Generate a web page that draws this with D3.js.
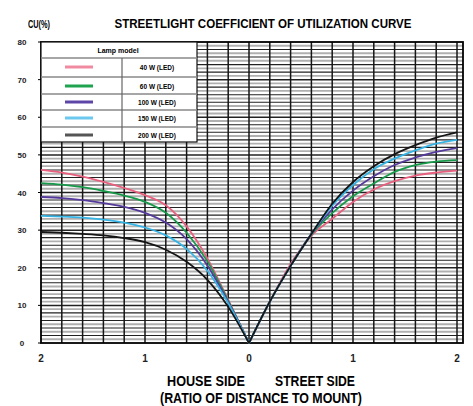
<!DOCTYPE html>
<html><head><meta charset="utf-8">
<script src="https://cdn.jsdelivr.net/npm/d3@7"></script>
<style>body{margin:0;background:#fff}svg{display:block}</style>
</head><body><svg id="c" width="473" height="406"></svg>
<script>
// ---- data ----
const xs = [-2,-1.8,-1.6,-1.4,-1.2,-1.0,-0.8,-0.6,-0.4,-0.2,0,0.2,0.4,0.6,0.8,1.0,1.2,1.4,1.6,1.8,2.0];
const seriesNames = ["40 W (LED)","60 W (LED)","100 W (LED)","150 W (LED)","200 W (LED)"];
const pinkVals   = [46,45.3,44.2,42.8,41.2,39.3,36.6,31,22.5,11.5,0,11,21,28.5,33,37.5,40.8,43,44.5,45.3,45.8];
const greenVals  = [42.5,42.1,41.4,40.4,39.2,37.5,34.6,29.3,21.7,11.2,0,11,20.5,28.8,34.5,39,42.4,45.5,47.3,48.2,48.6];
const purpleVals = [38.8,38.5,38.0,37.2,36.2,34.6,32.0,27.6,20.6,10.9,0,11,20.5,29,35.5,40.5,44.3,47.3,49.3,50.8,51.8];
const cyanVals   = [33.8,33.6,33.3,32.8,32.0,30.7,28.6,25.0,19.2,10.6,0,11,20.5,29,36.5,42,46.2,49,51.2,53,54];
const blackVals  = [29.5,29.3,29.0,28.6,27.9,26.8,24.8,21.6,16.8,9.6,0,11,20.5,29,37,42.8,47,50.2,52.6,54.6,56];
const yTicks = [0,10,20,30,40,50,60,70,80];
const xTicks = [-2,-1,0,1,2];
const allVals = [pinkVals,greenVals,purpleVals,cyanVals,blackVals];
const colors = ["#e8607e","#17994a","#553a9c","#35b4e6","#151515"];
const legendColors = ["#f08aa0","#1fa34f","#5e46a8","#6cc8ee","#555555"];

const svg = d3.select("#c");
const L=41,R=463,T=42,B=343;
const x = d3.scaleLinear().domain([-2,2]).range([41,457]);
const y = d3.scaleLinear().domain([0,80]).range([B,T]);

// grid
const g = svg.append("g");
d3.range(1,80).forEach(v=>{
  g.append("line").attr("x1",L).attr("x2",R).attr("y1",y(v)).attr("y2",y(v))
   .attr("stroke", v%2===0 ? "#222" : "#b0b0b0")
   .attr("stroke-width", v%2===0 ? (v%10===0?1.5:1.1) : 1.9);
});
d3.range(-1.8,2.05,0.2).forEach(v=>{
  g.append("line").attr("y1",T).attr("y2",B).attr("x1",x(v)).attr("x2",x(v))
   .attr("stroke","#151515").attr("stroke-width",1.5);
});
svg.append("rect").attr("x",L).attr("y",T).attr("width",R-L).attr("height",B-T)
  .attr("fill","none").attr("stroke","#000").attr("stroke-width",1.8);

// curves
const line = d3.line().x(d=>x(d[0])).y(d=>y(d[1])).curve(d3.curveMonotoneX);
allVals.forEach((vals,i)=>{
  const pts = xs.map((xv,j)=>[xv,vals[j]]);
  const left = pts.filter(p=>p[0]<=0), right = pts.filter(p=>p[0]>=0);
  [left,right].forEach(seg=>{
    svg.append("path").attr("d",line(seg)).attr("fill","none")
      .attr("stroke",colors[i]).attr("stroke-width",1.8);
  });
});

// legend
const lg = svg.append("g");
const lx0=41, lx1=197, lmid=122;
const rowBot=142;
lg.append("rect").attr("x",lx0).attr("y",42).attr("width",lx1-lx0).attr("height",rowBot-42)
  .attr("fill","#fff").attr("stroke","#111").attr("stroke-width",1.2);
[58,77,94,110,127].forEach(v=>{
  lg.append("line").attr("x1",lx0).attr("x2",lx1).attr("y1",v).attr("y2",v)
    .attr("stroke","#888").attr("stroke-width",1.6);
});
lg.append("line").attr("x1",lmid).attr("x2",lmid).attr("y1",58).attr("y2",rowBot)
  .attr("stroke","#666").attr("stroke-width",1.2);
lg.append("text").attr("x",118).attr("y",53).attr("text-anchor","middle")
  .attr("font-family","Liberation Sans Narrow, Liberation Sans, sans-serif").attr("font-weight","bold")
  .attr("font-size",7).text("Lamp model");
const rowMid=[67,86,102,118,135];
seriesNames.forEach((n,i)=>{
  lg.append("line").attr("x1",65).attr("x2",93).attr("y1",rowMid[i]).attr("y2",rowMid[i])
    .attr("stroke",legendColors[i]).attr("stroke-width",3);
  lg.append("text").attr("x",157).attr("y",rowMid[i]+2.5).attr("text-anchor","middle")
    .attr("font-family","Liberation Sans Narrow, Liberation Sans, sans-serif").attr("font-weight","bold")
    .attr("font-size",6.5).text(n);
});

// axes labels
const ff = "Liberation Sans Narrow, Liberation Sans, Arial, sans-serif";
yTicks.forEach(v=>{
  svg.append("text").attr("x",22).attr("y",y(v)+3).attr("text-anchor","middle")
    .attr("font-family",ff).attr("font-weight","bold").attr("font-size",8).attr("fill","#222").text(v);
  svg.append("line").attr("x1",L-3).attr("x2",L).attr("y1",y(v)).attr("y2",y(v)).attr("stroke","#000");
});
xTicks.forEach(v=>{
  svg.append("text").attr("x",x(v)).attr("y",362).attr("text-anchor","middle")
    .attr("font-family",ff).attr("font-weight","bold").attr("font-size",10).attr("fill","#222").text(Math.abs(v));
});
svg.append("text").attr("x",263).attr("y",28).attr("text-anchor","middle")
  .attr("font-family",ff).attr("font-weight","bold").attr("font-size",12)
  .attr("textLength",297).attr("lengthAdjust","spacingAndGlyphs")
  .text("STREETLIGHT COEFFICIENT OF UTILIZATION CURVE");
svg.append("text").attr("x",28).attr("y",28)
  .attr("font-family",ff).attr("font-weight","bold").attr("font-size",10)
  .attr("textLength",22).attr("lengthAdjust","spacingAndGlyphs").text("CU(%)");
svg.append("text").attr("x",167).attr("y",386)
  .attr("font-family",ff).attr("font-weight","bold").attr("font-size",15)
  .attr("textLength",78).attr("lengthAdjust","spacingAndGlyphs").text("HOUSE SIDE");
svg.append("text").attr("x",275).attr("y",386)
  .attr("font-family",ff).attr("font-weight","bold").attr("font-size",15)
  .attr("textLength",80).attr("lengthAdjust","spacingAndGlyphs").text("STREET SIDE");
svg.append("text").attr("x",160).attr("y",403)
  .attr("font-family",ff).attr("font-weight","bold").attr("font-size",15)
  .attr("textLength",202).attr("lengthAdjust","spacingAndGlyphs").text("(RATIO OF DISTANCE TO MOUNT)");
</script></body></html>
